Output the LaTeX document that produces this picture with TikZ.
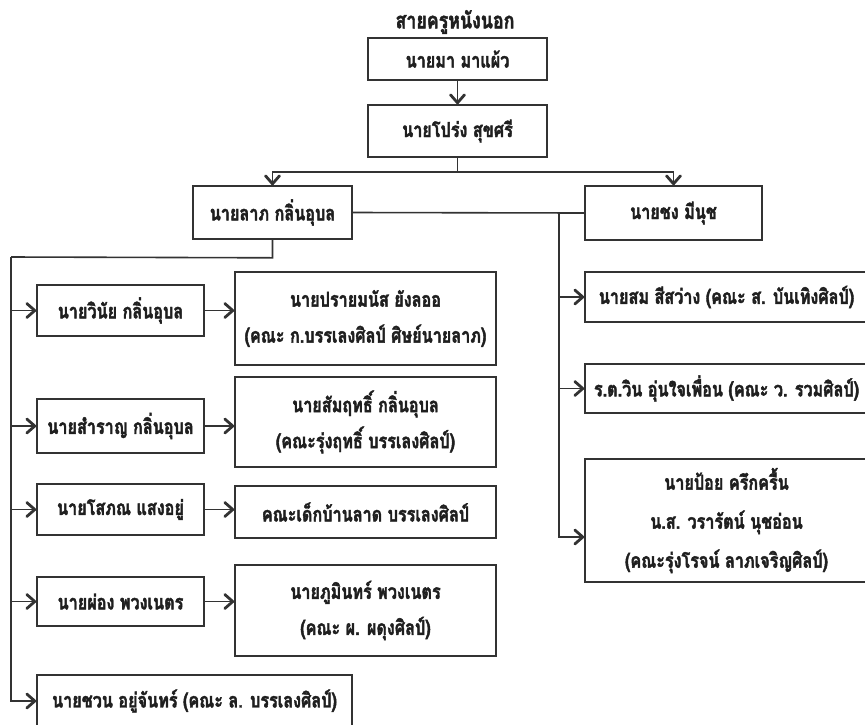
\documentclass[tikz,border=0pt]{standalone}
\usepackage{fontspec}
\newfontfamily\thai[Script=Thai,FakeStretch=0.79,FakeBold=2]{Loma}
\usetikzlibrary{arrows.meta,calc}
\begin{document}
\begin{tikzpicture}[x=1pt,y=-1pt,
  every node/.style={font=\thai\bfseries\fontsize{20.5}{36}\selectfont, text=black!88},
  bx/.style={draw=black!80, line width=1.6pt, inner sep=0pt, align=center, fill=white},
  ln/.style={draw=black!80, line width=1.6pt},
  arr/.style={ln, -{Straight Barb[length=8pt,width=14pt,line width=2.8pt 0,round]}, line width=1.8pt}]
\useasboundingbox (0,0) rectangle (865,724);
\clip (0,0) rectangle (865,724);
\fill[white] (0,0) rectangle (865,724);
% title
\node[font=\thai\bfseries\fontsize{22.5}{36}\selectfont] (title) at (455,22) {สายครูหนังนอก};
% top chain
\node[bx, minimum width=179pt, minimum height=42pt] (b1) at (457.5,59) {นายมา มาแผ้ว};
\node[bx, minimum width=179pt, minimum height=52pt] (b2) at (457.5,131) {นายโปร่ง สุขศรี};
\node[bx, minimum width=159pt, minimum height=53pt] (lab) at (272.5,212.5) {นายลาภ กลิ่นอุบล};
\node[bx, minimum width=177pt, minimum height=54pt] (chong) at (673.5,213) {นายชง มีนุช};
% left column
\node[bx, minimum width=167pt, minimum height=51pt] (winai) at (120.5,310.5) {นายวินัย กลิ่นอุบล};
\node[bx, minimum width=167pt, minimum height=54pt] (samran) at (120.5,426) {นายสำราญ กลิ่นอุบล};
\node[bx, minimum width=167pt, minimum height=51pt] (sophon) at (120.5,509.5) {นายโสภณ แสงอยู่};
\node[bx, minimum width=167pt, minimum height=49pt] (phong) at (120.5,601.5) {นายผ่อง พวงเนตร};
\node[bx, minimum width=315pt, minimum height=52pt] (chuan) at (194.5,701) {นายชวน อยู่จันทร์ (คณะ ล. บรรเลงศิลป์)};
% middle column
\node[bx, minimum width=261pt, minimum height=93pt] (prai) at (365.5,318.5) {นายปรายมนัส ยังลออ\\(คณะ ก.บรรเลงศิลป์ ศิษย์นายลาภ)};
\node[bx, minimum width=261pt, minimum height=90pt] (samrit) at (365.5,422) {นายสัมฤทธิ์ กลิ่นอุบล\\(คณะรุ่งฤทธิ์ บรรเลงศิลป์)};
\node[bx, minimum width=261pt, minimum height=52pt] (dek) at (365.5,512) {คณะเด็กบ้านลาด บรรเลงศิลป์};
\node[bx, minimum width=261pt, minimum height=91pt] (phumin) at (365.5,610.5) {นายภูมินทร์ พวงเนตร\\(คณะ ผ. ผดุงศิลป์)};
% right column
\node[bx, minimum width=283pt, minimum height=50pt] (som) at (726.5,297) {นายสม สีสว่าง (คณะ ส. บันเทิงศิลป์)};
\node[bx, minimum width=283pt, minimum height=49pt] (win) at (726.5,388.5) {ร.ต.วิน อุ่นใจเพื่อน (คณะ ว. รวมศิลป์)};
\node[bx, minimum width=283pt, minimum height=123pt, font=\thai\bfseries\fontsize{20.5}{39}\selectfont] (poy) at (726.5,520.5) {นายป้อย ครึกครื้น\\น.ส. วรารัตน์ นุชอ่อน\\(คณะรุ่งโรจน์ ลาภเจริญศิลป์)};
% connectors
\draw[arr] (b1.south) -- (b2.north);
\coordinate (jt) at ($(b2.south)+(0,14)$);
\draw[ln] (b2.south) -- (jt);
\draw[arr] (jt) -| (lab.north);
\draw[arr] (jt) -| (chong.north);
\draw[ln] (lab.east) -- (chong.west);
% right trunk
\coordinate (jr) at (559,213);
\coordinate (poyin) at ($(poy.west)+(0,16.5)$);
\draw[arr] (jr) |- (som.west);
\draw[arr] (jr) |- (win.west);
\draw[arr] (jr) |- (poyin);
% left trunk
\coordinate (jl0) at ($(lab.south)+(0,18)$);
\coordinate (jl) at (11,257);
\draw[ln] (lab.south) -- (jl0) -- (jl);
\draw[arr] (jl) |- (winai.west);
\draw[arr] (jl) |- (samran.west);
\draw[arr] (jl) |- (sophon.west);
\draw[arr] (jl) |- (phong.west);
\draw[arr] (jl) |- (chuan.west);
% left to middle
\draw[arr] (winai.east) -- (winai.east -| prai.west);
\draw[arr] (samran.east) -- (samran.east -| samrit.west);
\draw[arr] (sophon.east) -- (sophon.east -| dek.west);
\draw[arr] (phong.east) -- (phong.east -| phumin.west);
\end{tikzpicture}
\end{document}
